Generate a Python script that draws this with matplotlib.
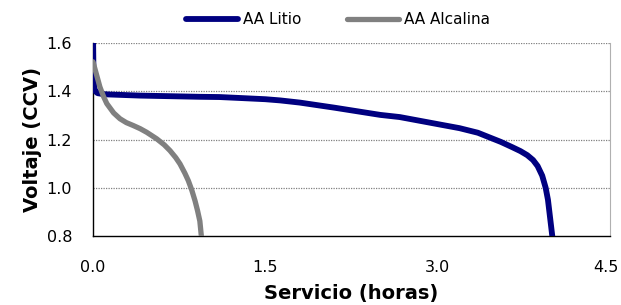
import matplotlib
matplotlib.use("Agg")
import matplotlib.pyplot as plt
import matplotlib.transforms as mtransforms

plt.rcParams['font.family'] = ['DejaVu Sans']

# Data
litio_h = [0.0, 0.004, 0.01, 0.02, 0.04, 0.08, 0.12, 0.41, 0.93, 1.1, 1.28, 1.5, 1.63, 1.8,
           2.1, 2.5, 2.67, 3.02, 3.19, 3.35, 3.455, 3.55, 3.65, 3.72, 3.78, 3.83, 3.87,
           3.91, 3.94, 3.96, 3.98, 4.0]
litio_v = [1.65, 1.48, 1.42, 1.40, 1.392, 1.389, 1.387, 1.382, 1.377, 1.376, 1.372, 1.367, 1.362, 1.353,
           1.332, 1.302, 1.293, 1.262, 1.247, 1.228, 1.208, 1.19, 1.168, 1.152, 1.135, 1.115, 1.09,
           1.05, 1.0, 0.95, 0.87, 0.79]
alc_h = [0.0, 0.03, 0.06, 0.09, 0.12, 0.18, 0.235, 0.29, 0.35, 0.41, 0.467, 0.554, 0.62, 0.67,
         0.72, 0.757, 0.8, 0.83, 0.86, 0.888, 0.91, 0.93, 0.945]
alc_v = [1.522, 1.47, 1.418, 1.38, 1.349, 1.31, 1.286, 1.27, 1.258, 1.245, 1.23, 1.203, 1.178, 1.154,
         1.125, 1.099, 1.06, 1.029, 0.99, 0.946, 0.905, 0.862, 0.79]
xticks = [0.0, 1.5, 3.0, 4.5]
yticks = [0.8, 1.0, 1.2, 1.4, 1.6]
series_names = ["AA Litio", "AA Alcalina"]

fig = plt.figure(figsize=(6.21, 3.05), dpi=100)
ax = fig.add_axes([93/621, 1-236/305, (610-93)/621, (236-43)/305])

l1, = ax.plot(litio_h, litio_v, color='#000080', lw=4.2, solid_capstyle='round',
              solid_joinstyle='round', label=series_names[0], zorder=3)
l2, = ax.plot(alc_h, alc_v, color='#808080', lw=3.8, solid_capstyle='round',
              solid_joinstyle='round', label=series_names[1], zorder=4)

ax.set_xlim(0, 4.5)
ax.set_ylim(0.8, 1.6)
ax.set_xticks(xticks)
ax.set_yticks(yticks)
ax.set_xticklabels([f"{t:.1f}" for t in xticks])
ax.set_yticklabels([f"{t:.1f}" for t in yticks])
ax.tick_params(axis='both', length=0, labelsize=11.5)
ax.tick_params(axis='x', pad=17)
ax.tick_params(axis='y', pad=15)

# keep the last x tick label inside the figure
last = ax.get_xticklabels()[-1]
last.set_transform(last.get_transform() + mtransforms.ScaledTranslation(-4/100, 0, fig.dpi_scale_trans))

for y in yticks[1:]:
    ax.axhline(y, color='#808080', lw=0.9, ls=(0, (1, 1)), zorder=1)

ax.spines['top'].set_visible(False)
ax.spines['right'].set_color('#b0b0b0')
ax.spines['right'].set_linewidth(0.8)
ax.spines['left'].set_color('black')
ax.spines['bottom'].set_color('black')
ax.spines['left'].set_linewidth(1.0)
ax.spines['bottom'].set_linewidth(1.0)

ax.set_xlabel("Servicio (horas)", fontsize=14, fontweight='bold', labelpad=7)
ax.set_ylabel("Voltaje (CCV)", fontsize=14, fontweight='bold', labelpad=3)

fig.legend(handles=[l1, l2], loc='center', bbox_to_anchor=(338/621, 1-20/305), ncol=2,
           frameon=False, fontsize=11, handlelength=3.4, handletextpad=0.3,
           columnspacing=3.0)

fig.savefig("out.png", dpi=100)
